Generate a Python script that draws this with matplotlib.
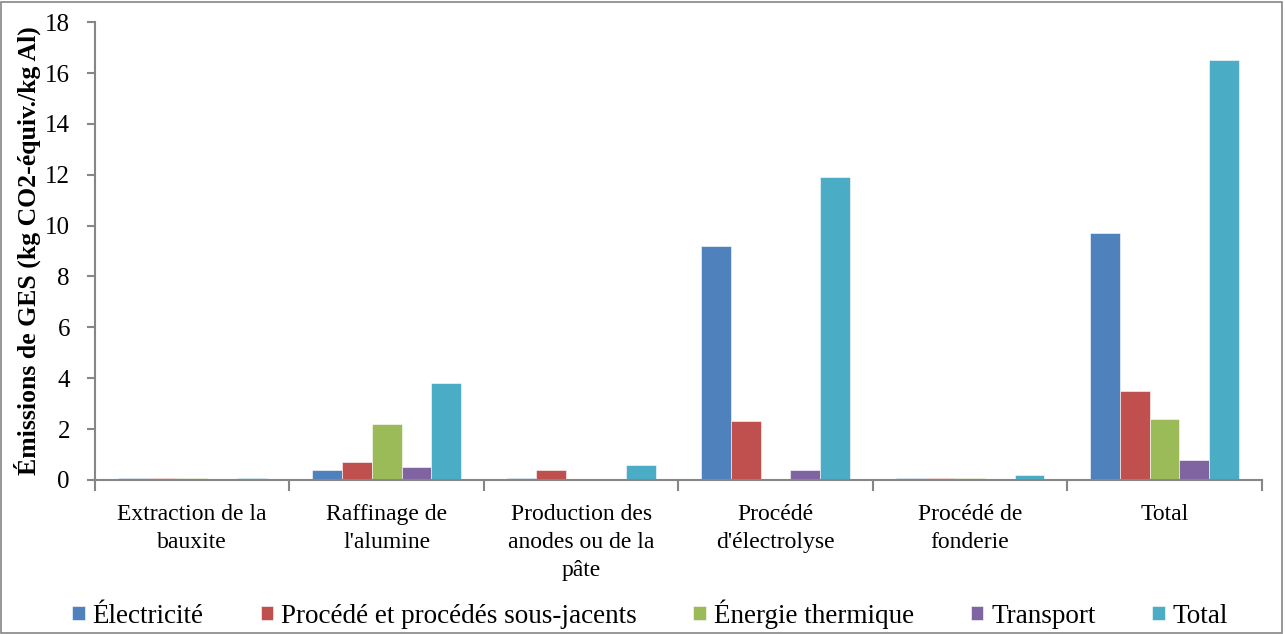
import matplotlib
matplotlib.use("Agg")
import matplotlib.pyplot as plt
import numpy as np
from matplotlib.patches import Rectangle

categories = ["Extraction de la\nbauxite", "Raffinage de\nl'alumine", "Production des\nanodes ou de la\npâte",
              "Procédé\nd'électrolyse", "Procédé de\nfonderie", "Total"]
series_names = ["Électricité", "Procédé et procédés sous-jacents", "Énergie thermique", "Transport", "Total"]
electricite = [0.07, 0.4, 0.07, 9.2, 0.07, 9.7]
procede = [0.07, 0.7, 0.4, 2.3, 0.07, 3.5]
thermique = [0.07, 2.2, 0.04, 0.05, 0.07, 2.4]
transport = [0.0, 0.5, 0.05, 0.4, 0.0, 0.8]
total = [0.07, 3.8, 0.6, 11.9, 0.18, 16.5]
colors = ["#4F81BD", "#C0504D", "#9BBB59", "#8064A2", "#4BACC6"]

plt.rcParams['font.family'] = ['Liberation Serif', 'DejaVu Serif']

fig = plt.figure(figsize=(12.85, 6.34), dpi=100)
ax = fig.add_axes([0.0739, 0.243, 0.908, 0.722])

data = [electricite, procede, thermique, transport, total]
x = np.arange(len(categories))
w = 0.153
for i, (vals, c, name) in enumerate(zip(data, colors, series_names)):
    ax.bar(x + (i - 2) * w, vals, width=w, color=c, edgecolor="white", linewidth=0.4, label=name)

ax.set_xlim(-0.5, len(categories) - 0.5)
ax.set_ylim(0, 18)
ax.set_yticks(np.arange(0, 19, 2))
ax.set_xticks(x)
ax.set_xticklabels(categories, fontsize=17, linespacing=1.45)
ax.set_xticks(np.arange(-0.5, len(categories), 1), minor=True)
ax.tick_params(axis='x', which='major', length=0, pad=17)
ax.tick_params(axis='x', which='minor', length=8, color="#868686", width=1.5)
ax.tick_params(axis='y', labelsize=18, length=6, color="#868686", width=1.5, pad=12)
for s in ["top", "right"]:
    ax.spines[s].set_visible(False)
for s in ["left", "bottom"]:
    ax.spines[s].set_color("#868686")
    ax.spines[s].set_linewidth(1.5)
ax.set_ylabel("Émissions de GES (kg CO2-équiv./kg Al)", fontsize=18.5, fontweight="bold", labelpad=3)

fig.legend(loc="lower center", bbox_to_anchor=(0.506, -0.03), ncol=5, frameon=False, fontsize=19.5,
           handlelength=0.45, handleheight=0.45, handletextpad=0.3, columnspacing=2.1)

fig.patches.append(Rectangle((0.001, 0.002), 0.997, 0.995, transform=fig.transFigure,
                             fill=False, edgecolor="#868686", linewidth=1.2))
fig.savefig("out.png", dpi=100)
